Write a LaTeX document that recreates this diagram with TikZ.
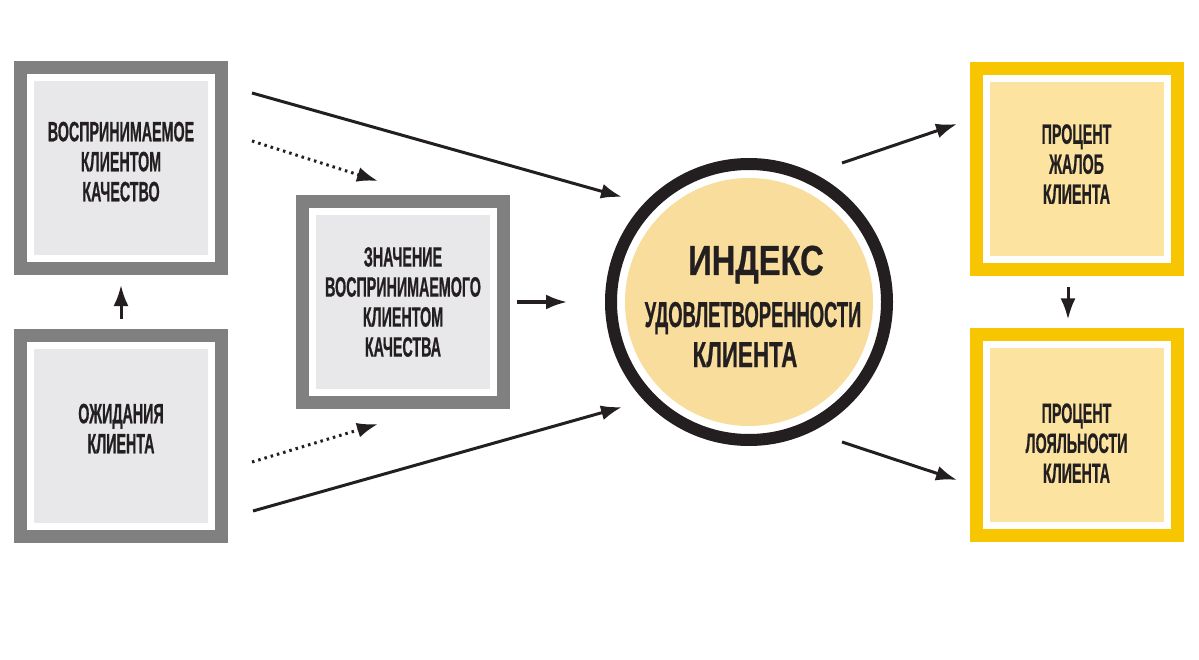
\documentclass[tikz,border=0pt]{standalone}
\usepackage{fontspec}
\setmainfont{Liberation Sans}[FakeStretch=0.51,FakeBold=0.6]
\newfontfamily\titlefont{Liberation Sans}[FakeStretch=0.78,FakeBold=0.6]
\newfontfamily\wordfont{Liberation Sans}[FakeStretch=0.62,FakeBold=0.6]
\usetikzlibrary{arrows.meta}
\definecolor{frame}{HTML}{808080}
\definecolor{greyfill}{HTML}{E8E8EA}
\definecolor{goldframe}{HTML}{F7C600}
\definecolor{goldfill}{HTML}{FCE3A0}
\definecolor{circfill}{HTML}{F8DD9C}
\definecolor{ink}{HTML}{231F20}
\begin{document}
\begin{tikzpicture}[
x=1pt,y=1pt,
box/.style 2 args={
  draw=#1, line width=13pt, fill=white,
  minimum size=201pt, inner sep=0pt,
  align=center, text=ink,
  font=\bfseries\fontsize{28}{30}\selectfont,
  path picture={\fill[#2]
    ([shift={(13.5pt,13.5pt)}]path picture bounding box.south west) rectangle
    ([shift={(-13.5pt,-13.5pt)}]path picture bounding box.north east);}
  },
arr/.style={-{Latex[length=21pt,width=15pt]}, line width=3pt, ink},
dots/.style={dash pattern=on 2.5pt off 4pt}
]
\useasboundingbox[fill=white] (0,0) rectangle (1199,-660);
% boxes
\node[box={frame}{greyfill}, text depth=14pt] (quality) at (121,-168.5) {ВОСПРИНИМАЕМОЕ\\КЛИЕНТОМ\\КАЧЕСТВО};
\node[box={frame}{greyfill}, text depth=14pt] (expect) at (121,-435.5) {ОЖИДАНИЯ\\КЛИЕНТА};
\node[box={frame}{greyfill}] (value) at (403,-302) {ЗНАЧЕНИЕ\\ВОСПРИНИМАЕМОГО\\КЛИЕНТОМ\\КАЧЕСТВА};
\node[box={goldframe}{goldfill}, text depth=10pt] (complaints) at (1076.5,-169) {ПРОЦЕНТ\\ЖАЛОБ\\КЛИЕНТА};
\node[box={goldframe}{goldfill}, text height=96pt] (loyalty) at (1076.5,-435) {ПРОЦЕНТ\\ЛОЯЛЬНОСТИ\\КЛИЕНТА};
% index circle
\node[circle, draw=ink, line width=12pt, fill=white, minimum size=276pt, inner sep=0pt,
  path picture={\fill[circfill] (path picture bounding box.center) circle (124pt);}] (index) at (749,-302) {};
\node[anchor=base, text=ink, font=\titlefont\bfseries\fontsize{42}{42}\selectfont] (title) at ([xshift=7pt,yshift=27pt]index.center) {ИНДЕКС};
\node[anchor=base, text=ink, font=\bfseries\fontsize{36}{36}\selectfont] (sub) at ([xshift=4pt,yshift=-25pt]index.center) {УДОВЛЕТВОРЕННОСТИ};
\node[anchor=base, text=ink, font=\wordfont\bfseries\fontsize{36}{36}\selectfont] (client) at ([xshift=-4pt,yshift=-65pt]index.center) {КЛИЕНТА};
% free ends
\coordinate (q1) at (252,-93);  \coordinate (i1) at (622,-197);
\coordinate (q2) at (252,-141); \coordinate (v1) at (378,-181);
\coordinate (e1) at (252,-462); \coordinate (v2) at (378,-424);
\coordinate (e2) at (253,-511); \coordinate (i2) at (622,-407);
\coordinate (i4) at (842,-163); \coordinate (c1) at (957,-124);
\coordinate (i5) at (842,-442); \coordinate (l1) at (957,-480);
\path[arr]
(q1) edge (i1)
(q2) edge[dots] (v1)
(e1) edge[dots] (v2)
(e2) edge (i2)
(expect.north) edge[shorten <=10pt, shorten >=9.5pt] (quality.south)
([xshift=7pt]value.east) edge ([xshift=-38pt]index.west)
(i4) edge (c1)
(i5) edge (l1)
([xshift=-8.5pt]complaints.south) edge[shorten <=11.5pt, shorten >=8.5pt] ([xshift=-8.5pt]loyalty.north);
\end{tikzpicture}
\end{document}
